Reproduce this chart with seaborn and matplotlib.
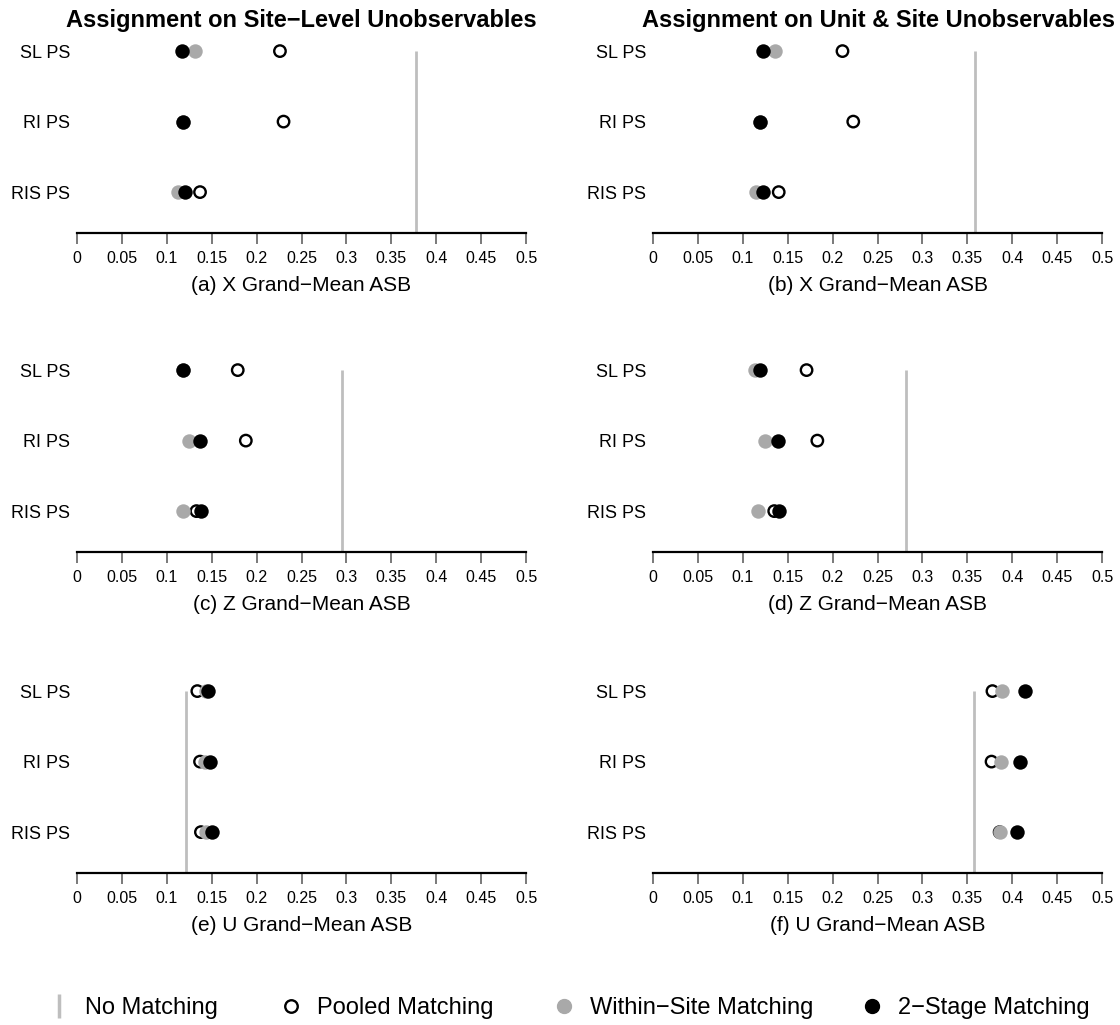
import numpy as np
import pandas as pd
import matplotlib
matplotlib.use("Agg")
import matplotlib.pyplot as plt
import seaborn as sns
from matplotlib.lines import Line2D

# ---------------- data ----------------
methods = ["SL PS", "RI PS", "RIS PS"]
row_pos = [3, 2, 1]

col_titles = ["Assignment on Site\u2212Level Unobservables",
              "Assignment on Unit & Site Unobservables"]
panel_labels = ["(a) X Grand\u2212Mean ASB", "(b) X Grand\u2212Mean ASB",
                "(c) Z Grand\u2212Mean ASB", "(d) Z Grand\u2212Mean ASB",
                "(e) U Grand\u2212Mean ASB", "(f) U Grand\u2212Mean ASB"]

none_a = 0.378
pooled_a = [0.226, 0.230, 0.137]
within_a = [0.131, 0.118, 0.112]
twostage_a = [0.117, 0.118, 0.120]

none_b = 0.359
pooled_b = [0.211, 0.223, 0.140]
within_b = [0.136, 0.119, 0.115]
twostage_b = [0.122, 0.119, 0.122]

none_c = 0.295
pooled_c = [0.179, 0.188, 0.133]
within_c = [0.118, 0.125, 0.118]
twostage_c = [0.118, 0.137, 0.138]

none_d = 0.282
pooled_d = [0.171, 0.183, 0.135]
within_d = [0.114, 0.125, 0.117]
twostage_d = [0.119, 0.139, 0.140]

none_e = 0.121
pooled_e = [0.134, 0.137, 0.138]
within_e = [0.144, 0.142, 0.144]
twostage_e = [0.146, 0.148, 0.150]

none_f = 0.358
pooled_f = [0.378, 0.377, 0.386]
within_f = [0.389, 0.387, 0.386]
twostage_f = [0.414, 0.409, 0.405]

xticks = [0, 0.05, 0.1, 0.15, 0.2, 0.25, 0.3, 0.35, 0.4, 0.45, 0.5]
xtick_labels = ["0", "0.05", "0.1", "0.15", "0.2", "0.25", "0.3", "0.35", "0.4", "0.45", "0.5"]

legend_labels = ["No Matching", "Pooled Matching", "Within\u2212Site Matching", "2\u2212Stage Matching"]

panels = [
    (none_a, pooled_a, within_a, twostage_a),
    (none_b, pooled_b, within_b, twostage_b),
    (none_c, pooled_c, within_c, twostage_c),
    (none_d, pooled_d, within_d, twostage_d),
    (none_e, pooled_e, within_e, twostage_e),
    (none_f, pooled_f, within_f, twostage_f),
]

# ---------------- style ----------------
sns.set_theme(style="white")
plt.rcParams["font.family"] = ["Liberation Sans", "DejaVu Sans"]
plt.rcParams["text.color"] = "black"
plt.rcParams["axes.labelcolor"] = "black"
plt.rcParams["xtick.color"] = "black"
plt.rcParams["ytick.color"] = "black"

GRAY_LINE = "#BEBEBE"
GRAY_PT = "#A9A9A9"

W, H = 1120, 1025
fig = plt.figure(figsize=(W / 100, H / 100), dpi=100)

lefts = [77 / W, 653 / W]
axis_y = [233, 552, 873]
ax_w = 449 / W
ax_h = 196 / H

for i, (nm, po, wi, ts) in enumerate(panels):
    r, c = divmod(i, 2)
    ax = fig.add_axes([lefts[c], 1 - axis_y[r] / H, ax_w, ax_h])
    df = pd.DataFrame({"method": methods, "y": row_pos,
                       "pooled": po, "within": wi, "twostage": ts})
    ax.vlines(nm, 0.42, 3, color=GRAY_LINE, lw=2, zorder=1)
    sns.scatterplot(data=df, x="pooled", y="y", ax=ax, s=68, marker="o",
                    facecolors="none", edgecolor="black", linewidth=1.7,
                    zorder=2, clip_on=False)
    sns.scatterplot(data=df, x="within", y="y", ax=ax, s=108, marker="o",
                    color=GRAY_PT, edgecolor=GRAY_PT, linewidth=0, zorder=3,
                    clip_on=False)
    sns.scatterplot(data=df, x="twostage", y="y", ax=ax, s=108, marker="o",
                    color="black", edgecolor="black", linewidth=0, zorder=4,
                    clip_on=False)
    ax.set_xlim(0, 0.5)
    ax.set_ylim(0.42, 3.2)
    ax.set_yticks(row_pos)
    ax.set_yticklabels(methods)
    ax.set_xticks(xticks)
    ax.set_xticklabels(xtick_labels)
    ax.tick_params(axis="y", length=0, pad=5, labelsize=13, colors="black")
    ax.tick_params(axis="x", length=8, width=1.1, color="#555555", pad=5,
                   labelsize=11.5, labelcolor="black", direction="out", bottom=True)
    for s in ["top", "right", "left"]:
        ax.spines[s].set_visible(False)
    ax.spines["bottom"].set_color("black")
    ax.spines["bottom"].set_linewidth(1.6)
    ax.set_xlabel(panel_labels[i], fontsize=15, labelpad=7, color="black")
    ax.set_ylabel("")
    ax.set_facecolor("white")

fig.text(301 / W, 1 - 20 / H, col_titles[0], ha="center", va="center",
         fontsize=17, fontweight="bold", color="black")
fig.text(878 / W, 1 - 20 / H, col_titles[1], ha="center", va="center",
         fontsize=17, fontweight="bold", color="black")

handles = [
    Line2D([], [], marker="|", linestyle="none", color=GRAY_LINE,
           markersize=17, markeredgewidth=2.5),
    Line2D([], [], marker="o", linestyle="none", markerfacecolor="none",
           markeredgecolor="black", markersize=9, markeredgewidth=1.7),
    Line2D([], [], marker="o", linestyle="none", color=GRAY_PT, markersize=10),
    Line2D([], [], marker="o", linestyle="none", color="black", markersize=10),
]
centers = [59, 291, 564, 872]
fs = 17
half = 0.5 * fs * 100 / 72
for hnd, lab, cx in zip(handles, legend_labels, centers):
    fig.legend(handles=[hnd], labels=[lab], loc="center left",
               bbox_to_anchor=((cx - half) / W, 1 - 1008 / H),
               frameon=False, fontsize=fs, handlelength=1, handletextpad=0.6,
               borderpad=0, borderaxespad=0, labelcolor="black")

fig.savefig("out.png", dpi=100, facecolor="white")
